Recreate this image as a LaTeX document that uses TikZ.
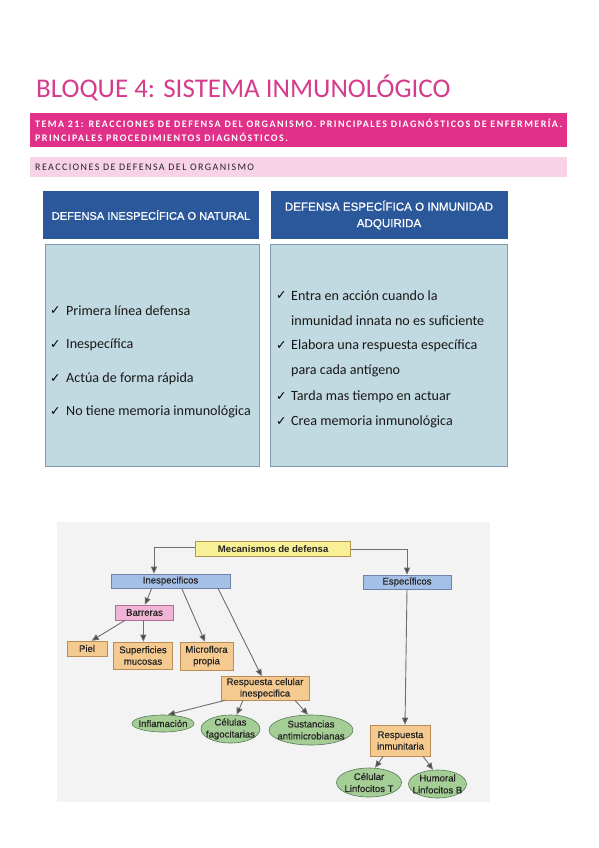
\documentclass[tikz,border=0pt]{standalone}
\usepackage{fontspec}
\setmainfont{Carlito}
\newfontfamily\arialf{Liberation Sans}
\newfontfamily\arialfb[FakeBold=0.35]{Liberation Sans}
\newfontfamily\hdrf[FakeBold=0.7]{Liberation Sans}
\newfontfamily\symf{DejaVu Sans}
\newfontfamily\spacedb[LetterSpace=14.5]{Carlito}
\newfontfamily\spacedr[LetterSpace=14]{Carlito}
\usetikzlibrary{arrows.meta,shapes.geometric,positioning}
\definecolor{titlepink}{RGB}{214,60,140}
\definecolor{barmag}{RGB}{224,48,138}
\definecolor{barlight}{RGB}{248,210,230}
\definecolor{hdrblue}{RGB}{42,88,155}
\definecolor{boxfill}{RGB}{193,217,224}
\definecolor{boxline}{RGB}{125,155,180}
\definecolor{ylwfill}{RGB}{248,240,150}
\definecolor{ylwline}{RGB}{180,150,80}
\definecolor{bluefill}{RGB}{165,192,230}
\definecolor{blueline}{RGB}{110,130,170}
\definecolor{pinkfill}{RGB}{240,180,215}
\definecolor{pinkline}{RGB}{180,110,150}
\definecolor{orgfill}{RGB}{245,202,145}
\definecolor{orgline}{RGB}{185,140,85}
\definecolor{grnfill}{RGB}{165,205,150}
\definecolor{grnline}{RGB}{85,125,85}
\definecolor{arrowgray}{RGB}{110,110,110}
\definecolor{tipgray}{RGB}{70,70,70}
\definecolor{photobg}{RGB}{243,243,243}
\definecolor{cmtext}{RGB}{35,35,35}
\tikzset{
  hdr/.style={fill=hdrblue, draw=white, line width=0.8pt, text=white, align=center, inner sep=0pt},
  lbox/.style={fill=boxfill, draw=boxline, line width=0.6pt},
  item/.style={anchor=west, inner sep=0pt, text=black!90, font=\fontsize{14.1}{16}\selectfont},
  chk/.style={anchor=west, inner sep=0pt, font=\symf\fontsize{12.5}{13}\selectfont},
  cmnode/.style={draw, line width=0.6pt, text=cmtext, font=\arialfb\fontsize{9.6}{11.5}\selectfont, align=center, inner xsep=1pt, inner ysep=1pt},
  ylw/.style={cmnode, fill=ylwfill, draw=ylwline, font=\arialf\bfseries\fontsize{9.6}{11.5}\selectfont},
  blu/.style={cmnode, fill=bluefill, draw=blueline},
  pnk/.style={cmnode, fill=pinkfill, draw=pinkline},
  org/.style={cmnode, fill=orgfill, draw=orgline},
  grn/.style={draw=grnline, fill=grnfill, line width=0.6pt, ellipse, inner sep=0pt},
  eltext/.style={text=cmtext, font=\arialfb\fontsize{9.6}{12}\selectfont, align=center, inner sep=0pt},
  bartext/.style={anchor=base west, inner sep=0pt},
  arr/.style={draw=arrowgray, line width=0.9pt, -{Triangle[length=7pt,width=6pt,fill=tipgray]}}
}
\begin{document}
\begin{tikzpicture}[x=1pt,y=-1pt]
\path[use as bounding box, fill=white] (0,0) rectangle (599,848);
% title
\node[bartext, text=titlepink, font=\fontsize{27}{30}\selectfont] (title) at (36,97.5) {BLOQUE 4: SISTEMA INMUNOLÓGICO};
% magenta bar
\fill[barmag] (30,113) rectangle (567,147);
\node[bartext, text=white, font=\spacedb\bfseries\fontsize{10}{12}\selectfont] (tema1) at (35,127.5) {TEMA 21: REACCIONES DE DEFENSA DEL ORGANISMO. PRINCIPALES DIAGNÓSTICOS DE ENFERMERÍA.};
\node[bartext, text=white, font=\spacedb\bfseries\fontsize{10}{12}\selectfont] (tema2) at (35,142) {PRINCIPALES PROCEDIMIENTOS DIAGNÓSTICOS.};
% light pink bar
\fill[barlight] (30,157) rectangle (567,177);
\node[bartext, text=black!85, font=\spacedr\fontsize{10}{12}\selectfont] (reac) at (35,170.7) {REACCIONES DE DEFENSA DEL ORGANISMO};
% headers
\node[hdr, minimum width=217pt, minimum height=49pt, font=\hdrf\fontsize{11.1}{16.5}\selectfont] (h1) at (151,215) {DEFENSA INESPECÍFICA O NATURAL};
\node[hdr, minimum width=238pt, minimum height=49pt, font=\hdrf\fontsize{11.6}{16.5}\selectfont] (h2) at (389,215) {DEFENSA ESPECÍFICA O INMUNIDAD\\ADQUIRIDA};
% boxes
\draw[lbox] (45,244) rectangle (259,466);
\draw[lbox] (270,244) rectangle (507,466);
% left items
\foreach \y/\t [count=\i] in {311/Primera línea defensa, 345/Inespecífica, 379/Actúa de forma rápida, 412/No tiene memoria inmunológica}{
  \node[chk] (lc\i) at (50,\y) {✓};
  \node[item] (li\i) at (66,\y) {\t};
}
% right items
\node[chk] (rc1) at (276,296) {✓};
\node[item] (ri1) at (291,296) {Entra en acción cuando la};
\node[item] (ri1b) at (291,320.5) {inmunidad innata no es suficiente};
\node[chk] (rc2) at (276,346) {✓};
\node[item] (ri2) at (291,346) {Elabora una respuesta específica};
\node[item] (ri2b) at (291,370.5) {para cada antígeno};
\node[chk] (rc3) at (276,397) {✓};
\node[item] (ri3) at (291,397) {Tarda mas tiempo en actuar};
\node[chk] (rc4) at (276,422) {✓};
\node[item] (ri4) at (291,422) {Crea memoria inmunológica};
% concept map
\fill[photobg] (57,522) rectangle (490,802);
\node[ylw, minimum width=155pt, minimum height=14.5pt] (mec) at (273.2,549) {Mecanismos de defensa};
\node[blu, minimum width=119pt, minimum height=14pt] (ines) at (170.5,581) {Inespecificos};
\node[blu, minimum width=88pt, minimum height=14pt] (espe) at (407,582) {Específicos};
\node[pnk, minimum width=58pt, minimum height=15pt] (barr) at (144.5,612.5) {Barreras};
\node[org, minimum width=40pt, minimum height=15pt] (piel) at (87,648.5) {Piel};
\node[org, minimum width=59pt, minimum height=27pt] (sup) at (143,655.5) {Superficies\\mucosas};
\node[org, minimum width=53pt, minimum height=28pt] (micro) at (206.5,656) {Microflora\\propia};
\node[org, minimum width=88pt, minimum height=23.5pt] (rcel) at (265,688.3) {Respuesta celular\\inespecifica};
\node[org, minimum width=59.5pt, minimum height=31pt] (rinm) at (400.5,740.5) {Respuesta\\inmunitaria};
\node[grn, minimum width=62pt, minimum height=17pt] (infl) at (163,723.5) {};
\node[eltext] (inflT) at (infl) {Inflamación};
\node[grn, minimum width=59pt, minimum height=28pt] (fago) at (230.5,729) {};
\node[eltext] (fagoT) at (fago) {Células\\fagocitarias};
\node[grn, minimum width=84pt, minimum height=30pt] (sust) at (311,730) {};
\node[eltext] (sustT) at (sust) {Sustancias\\antimicrobianas};
\node[grn, minimum width=65pt, minimum height=29pt] (celT) at (369,782.5) {};
\node[eltext] (celTT) at (celT) {Célular\\Linfocitos T};
\node[grn, minimum width=58pt, minimum height=28pt] (humB) at (437.5,784) {};
\node[eltext] (humBT) at (humB) {Humoral\\Linfocitos B};
% arrows
\draw[arr] ([yshift=2pt]mec.west) -| ([xshift=-16.5pt]ines.north);
\draw[arr] (mec.east) -| (espe.north);
\draw[arr] ([xshift=-18.8pt]ines.south) -- ([xshift=0.5pt]barr.north);
\draw[arr] ([xshift=-19.5pt]barr.south) -- ([xshift=4.7pt]piel.north);
\draw[arr] ([xshift=-1.2pt]barr.south) -- ([xshift=0.3pt]sup.north);
\draw[arr] ([xshift=11.2pt]ines.south) -- ([xshift=-1.5pt]micro.north);
\draw[arr] ([xshift=47.5pt]ines.south) -- ([xshift=-3.3pt]rcel.north);
\draw[arr] (espe.south) -- ([xshift=4.5pt]rinm.north);
\draw[arr] ([xshift=-40pt]rcel.south) -- ([xshift=5pt]infl.north);
\draw[arr] ([xshift=-22pt]rcel.south) -- ([xshift=6.2pt]fago.north);
\draw[arr] ([xshift=30pt]rcel.south) -- ([xshift=-3pt]sust.north);
\draw[arr] ([xshift=-17.2pt]rinm.south) -- ([xshift=6pt]celT.north);
\draw[arr] ([xshift=22.5pt]rinm.south) -- ([xshift=-4.5pt]humB.north);
\end{tikzpicture}
\end{document}
